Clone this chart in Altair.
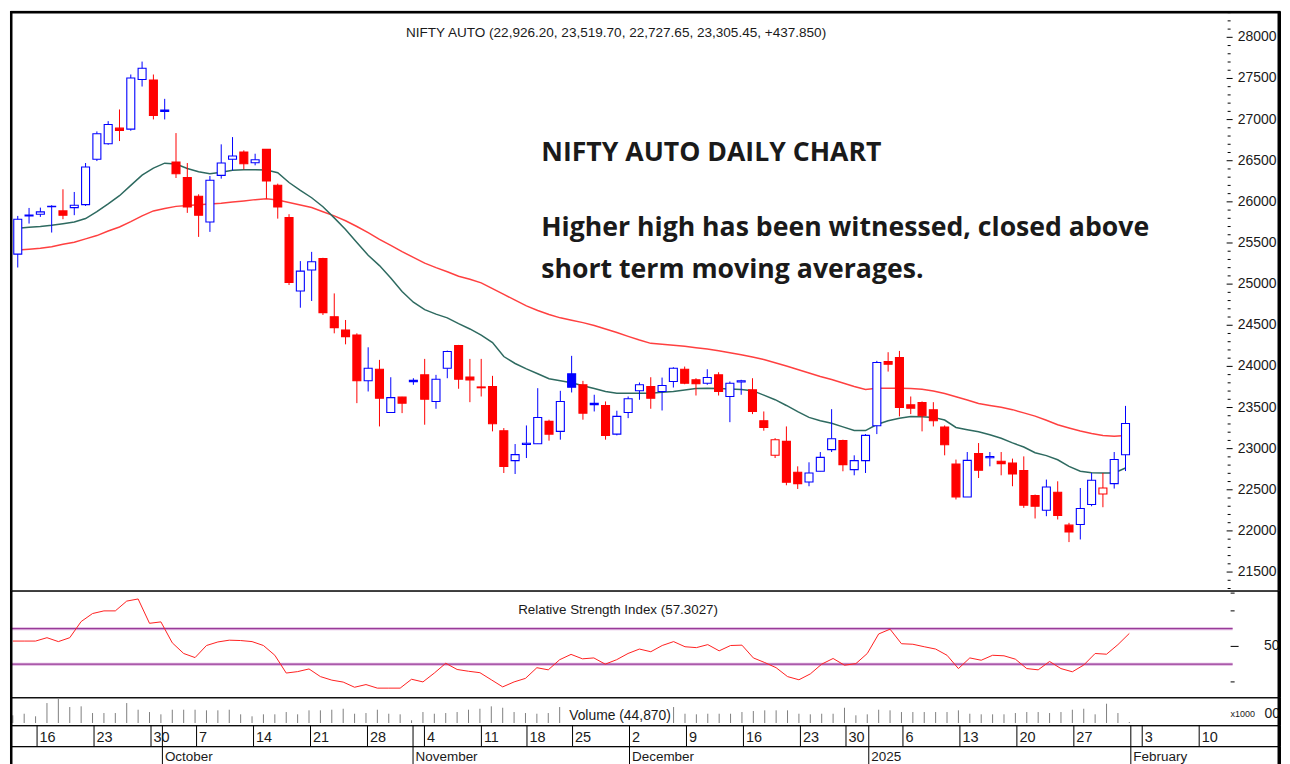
import altair as alt
import pandas as pd

# ---------------- data ----------------
opens = [25365, 25830, 25850, 25940, 25890, 25930, 25966, 26517, 26706, 26896,
         26884, 27487, 27482, 27100, 26484, 26294, 26068, 25756, 26322, 26517,
         26605, 26475, 26638, 26201, 25809, 24916, 25171, 25311, 24604, 24443,
         24382, 23825, 23965, 23440, 23626, 23815, 23897, 23573, 23977, 24253,
         23870, 23750, 23756, 23218, 22854, 23050, 23060, 23331, 23210, 23909,
         23776, 23535, 23525, 23177, 23440, 23703, 23756, 23695, 23816, 23965,
         23837, 23795, 23897, 23634, 23810, 23715, 23340, 22919, 23088, 22713,
         22595, 22725, 22988, 23097, 22745, 22854, 23279, 24059, 24107, 23533,
         23561, 23473, 23262, 22813, 22413, 22939, 22890, 22846, 22825, 22733,
         22430, 22252, 22470, 22070, 22078, 22321, 22449, 22575, 22926.2]
highs = [25829, 25926, 25930, 25959, 26153, 26120, 26472, 26856, 26981, 27123,
         27548, 27705, 27548, 27252, 26836, 26472, 26092, 26314, 26699, 26787,
         26626, 26585, 26640, 26221, 25850, 25280, 25392, 25320, 24887, 24564,
         24402, 24232, 24079, 23868, 23630, 23856, 24091, 23897, 24192, 24261,
         24091, 24091, 23885, 23250, 23056, 23282, 23735, 23352, 23703, 24128,
         23824, 23655, 23574, 23461, 23634, 23804, 23868, 23864, 23990, 23998,
         23856, 23965, 23929, 23816, 23837, 23856, 23452, 23128, 23270, 22785,
         22834, 22959, 23480, 23109, 22919, 23177, 24067, 24172, 24188, 23634,
         23574, 23565, 23282, 22867, 22959, 23068, 22959, 22959, 22879, 22906,
         22442, 22624, 22603, 22098, 22522, 22704, 22704, 22959, 23519.7]
lows = [25202, 25736, 25817, 25627, 25789, 25838, 25950, 26496, 26694, 26739,
        26864, 27402, 27002, 27002, 26290, 25866, 25574, 25635, 26282, 26383,
        26395, 26444, 26039, 25796, 24989, 24713, 24795, 24625, 24402, 24268,
        23553, 23695, 23270, 23440, 23432, 23776, 23291, 23485, 23856, 23728,
        23565, 23634, 23210, 22704, 22692, 22886, 23060, 23097, 23109, 23683,
        23352, 23452, 23109, 23161, 23371, 23594, 23485, 23464, 23743, 23783,
        23646, 23776, 23646, 23322, 23655, 23420, 23218, 22886, 22555, 22510,
        22543, 22725, 22959, 22725, 22676, 22704, 23177, 23937, 23392, 23420,
        23210, 23270, 22919, 22382, 22413, 22643, 22785, 22676, 22543, 22280,
        22151, 22179, 22139, 21864, 21896, 22300, 22288, 22515, 22727.65]
closes = [25789, 25840, 25878, 25945, 25838, 25959, 26423, 26827, 26941, 26868,
          27506, 27624, 27050, 27115, 26342, 25938, 25838, 26262, 26472, 26557,
          26463, 26512, 26253, 25938, 25020, 25158, 25271, 24653, 24471, 24362,
          23825, 23978, 23613, 23620, 23553, 23830, 23601, 23844, 24180, 23844,
          23835, 23740, 23303, 22785, 22927, 23065, 23379, 23177, 23574, 23747,
          23432, 23550, 23161, 23392, 23606, 23776, 23613, 23768, 23977, 23795,
          23788, 23864, 23695, 23795, 23825, 23452, 23258, 23109, 22591, 22575,
          22704, 22894, 23121, 22806, 22854, 23161, 24047, 24026, 23501, 23492,
          23400, 23340, 23048, 22413, 22858, 22737, 22905, 22818, 22692, 22312,
          22300, 22534, 22187, 21988, 22272, 22616, 22522, 22867.6, 23305.45]
ma_fast = [25680, 25690, 25700, 25715, 25735, 25755, 25797, 25880, 25975, 26075,
           26200, 26325, 26410, 26470, 26460, 26405, 26365, 26343, 26360, 26384,
           26390, 26390, 26386, 26355, 26235, 26140, 26050, 25940, 25805, 25665,
           25505, 25350, 25225, 25075, 24910, 24780, 24690, 24635, 24590, 24520,
           24455, 24380, 24290, 24120, 24035, 23970, 23910, 23850, 23825, 23800,
           23765, 23730, 23695, 23674, 23674, 23674, 23674, 23685, 23696, 23713,
           23730, 23735, 23730, 23725, 23720, 23705, 23650, 23595, 23525, 23450,
           23380, 23340, 23308, 23265, 23220, 23220, 23293, 23340, 23370, 23392,
           23388, 23380, 23348, 23258, 23230, 23205, 23170, 23127, 23070, 23020,
           22950, 22915, 22865, 22785, 22725, 22708, 22704, 22704, 22765]
ma_slow = [25415, 25425, 25435, 25455, 25485, 25510, 25550, 25590, 25645, 25695,
           25760, 25830, 25890, 25920, 25945, 25957, 25965, 25973, 25982, 25997,
           26011, 26027, 26038, 26022, 25993, 25963, 25932, 25880, 25830, 25770,
           25700, 25625, 25545, 25470, 25395, 25325, 25255, 25200, 25150, 25095,
           25060, 25015, 24945, 24875, 24805, 24735, 24680, 24630, 24590, 24560,
           24532, 24497, 24455, 24412, 24365, 24320, 24280, 24270, 24258, 24245,
           24227, 24210, 24190, 24165, 24142, 24113, 24083, 24045, 24005, 23963,
           23920, 23878, 23840, 23797, 23755, 23718, 23733, 23735, 23735, 23730,
           23722, 23700, 23670, 23630, 23592, 23550, 23525, 23502, 23474, 23435,
           23395, 23345, 23290, 23252, 23215, 23185, 23160, 23152, 23160]
rsi = [53, 53, 53, 54.9, 52.7, 54.9, 64, 68.5, 70, 70,
       75.5, 76.7, 63, 63.8, 52, 46, 43.7, 50.5, 52.5, 53.5,
       53.3, 52.7, 50.5, 45, 35, 35.8, 37.3, 33, 31, 29.9,
       27, 28.5, 26.5, 26.5, 26.5, 31.5, 30, 35, 40.5, 37,
       36, 35.2, 31.2, 27.2, 30, 32, 38, 36.8, 42.5, 45.5,
       43, 43.5, 40, 42.5, 46, 48.5, 47, 50.5, 52.7, 49.8,
       49.3, 51, 47.5, 50.5, 50.7, 43.5, 40.9, 38, 33, 31.2,
       34.5, 40, 43.2, 39.4, 40.3, 46, 57, 59.7, 51.5, 51.2,
       49.8, 48.5, 45, 37.5, 43.5, 42.2, 45, 44.7, 42.8, 37.5,
       36.8, 41.5, 37.5, 35.7, 39.5, 46, 45.6, 51, 57.3]
volume = [347, 419, 302, 900, 1094, 720, 752, 450, 450, 450,
          900, 599, 495, 392, 599, 599, 599, 572, 572, 599,
          392, 302, 392, 392, 495, 392, 572, 572, 599, 644,
          419, 450, 599, 419, 392, 122, 495, 419, 450, 495,
          599, 644, 752, 689, 495, 450, 419, 450, 720, None,
          None, None, None, None, None, None, None, None, 720, 419,
          392, 419, 419, 419, 495, 540, 572, 572, 572, 419,
          392, 419, 419, 689, 347, 392, 599, 572, 495, 495,
          495, 495, 495, 572, 419, 392, 392, 392, 450, 495,
          495, 450, 495, 599, 644, 392, 869, 450, 44.87]

rsi_levels = [60, 40]
rsi_major = [50]
rsi_minor_ticks = [30, 70, 80]
week_idx = [2, 7, 12, 16, 21, 26, 31, 36, 41, 45, 49, 54, 59, 64, 69, 73, 78, 83, 88, 93, 99, 104]
week_labels = ["16", "23", "30", "7", "14", "21", "28", "4", "11", "18", "25", "2", "9",
               "16", "23", "30", "6", "13", "20", "27", "3", "10"]
month_idx = [13, 35, 54, 75, 98]
month_labels = ["October", "November", "December", "2025", "February"]
price_ticks = list(range(21500, 28001, 500))
price_minor = [v for v in range(21300, 28301, 100) if v % 500 != 0]

title_text = "NIFTY AUTO (22,926.20, 23,519.70, 22,727.65, 23,305.45, +437.850)"
note_lines = ["NIFTY AUTO DAILY CHART",
              "Higher high has been witnessed, closed above",
              "short term moving averages."]

# ---------------- frame ----------------
n = len(closes)
prev = [closes[0]] + closes[:-1]
colors = ["#0000FF" if c >= p else "#FF0000" for c, p in zip(closes, prev)]
fills = ["#FFFFFF" if c >= o else col for o, c, col in zip(opens, closes, colors)]
df = pd.DataFrame({
    "i": list(range(n)), "open": opens, "high": highs, "low": lows, "close": closes,
    "color": colors, "fill": fills, "ma_fast": ma_fast, "ma_slow": ma_slow,
    "rsi": rsi, "vol": volume, "zero": [0] * n,
})

SANS = "Liberation Sans, Arial, sans-serif"
TXT = "#1a1a1a"
W = 1273
xs = alt.Scale(domain=[-0.245, 111.226], nice=False, zero=False)
X = alt.X("i:Q", scale=xs, axis=None)
base = alt.Chart(df)


def edges(h, top=False):
    """thick outer frame segments for one panel"""
    one = pd.DataFrame({"k": [0]})
    layers = [
        alt.Chart(one).mark_rule(color="black", strokeWidth=2.5).encode(
            x=alt.value(1.25), y=alt.value(0), y2=alt.value(h)),
        alt.Chart(one).mark_rule(color="black", strokeWidth=2.5).encode(
            x=alt.value(W - 1.25), y=alt.value(0), y2=alt.value(h)),
    ]
    if top:
        layers.append(alt.Chart(one).mark_rule(color="black", strokeWidth=2.5).encode(
            x=alt.value(0), x2=alt.value(W), y=alt.value(1.25)))
    return layers


def label(text, x, y, size, align="center", font=SANS, weight="normal", baseline="alphabetic"):
    return alt.Chart(pd.DataFrame({"t": [text]})).mark_text(
        font=font, fontSize=size, fontWeight=weight, align=align, baseline=baseline,
        color=TXT).encode(text="t:N", x=alt.value(x), y=alt.value(y))


# ---------------- main price panel ----------------
ps = alt.Scale(domain=[21275.4, 28321.3], nice=False, zero=False)
wick = base.mark_rule(strokeWidth=1, clip=True).encode(
    x=X, y=alt.Y("low:Q", scale=ps, axis=None), y2="high:Q",
    color=alt.Color("color:N", scale=None))
body = base.mark_bar(size=8, strokeWidth=1.1, clip=True).encode(
    x=X, y=alt.Y("open:Q", scale=ps, axis=None), y2="close:Q",
    fill=alt.Fill("fill:N", scale=None), stroke=alt.Stroke("color:N", scale=None))
ma1 = base.mark_line(color="#2E6A60", strokeWidth=1.5, clip=True).encode(
    x=X, y=alt.Y("ma_fast:Q", scale=ps, axis=None))
ma2 = base.mark_line(color="#FF4040", strokeWidth=1.5, clip=True).encode(
    x=X, y=alt.Y("ma_slow:Q", scale=ps, axis=None))
pt = pd.DataFrame({"v": price_ticks})
major_t = alt.Chart(pt).mark_rule(color="black").encode(
    y=alt.Y("v:Q", scale=ps, axis=None), x=alt.value(1219.5), x2=alt.value(1225.5))
major_l = alt.Chart(pt).mark_text(font=SANS, fontSize=14, align="right", baseline="middle",
                                  color=TXT).encode(
    y=alt.Y("v:Q", scale=ps, axis=None), x=alt.value(1269.5), text=alt.Text("v:Q", format="d"))
minor_t = alt.Chart(pd.DataFrame({"v": price_minor})).mark_rule(color="black").encode(
    y=alt.Y("v:Q", scale=ps, axis=None), x=alt.value(1220.5), x2=alt.value(1223.5))
title = label(title_text, 607.5, 26.2, 13.6)
notes = [label(t, 532.5, yy, 26.7, align="left", font="Open Sans", weight="bold")
         for t, yy in zip(note_lines, [150.8, 225.5, 267.5])]
main = alt.layer(minor_t, major_t, major_l, ma2, ma1, wick, body, title, *notes,
                 *edges(581, top=True)).properties(width=W, height=581)

# ---------------- RSI panel ----------------
rs = alt.Scale(domain=[21.35, 81.46], nice=False, zero=False)
lv = pd.DataFrame({"lvl": rsi_levels})
lvl_glow = alt.Chart(lv).mark_rule(color="#DDB0DD", strokeWidth=3).encode(
    y=alt.Y("lvl:Q", scale=rs, axis=None), x=alt.value(0), x2=alt.value(1225.5))
lvl_line = alt.Chart(lv).mark_rule(color="#8E2A8E", strokeWidth=1).encode(
    y=alt.Y("lvl:Q", scale=rs, axis=None), x=alt.value(0), x2=alt.value(1225.5))
rsi_minor = alt.Chart(pd.DataFrame({"v": rsi_minor_ticks})).mark_rule(color="black").encode(
    y=alt.Y("v:Q", scale=rs, axis=None), x=alt.value(1223.5), x2=alt.value(1227.5))
rm = pd.DataFrame({"v": rsi_major})
rsi_major_t = alt.Chart(rm).mark_rule(color="black").encode(
    y=alt.Y("v:Q", scale=rs, axis=None), x=alt.value(1223.5), x2=alt.value(1231.5))
rsi_major_l = alt.Chart(rm).mark_text(font=SANS, fontSize=14, align="right", baseline="middle",
                                      color=TXT).encode(
    y=alt.Y("v:Q", scale=rs, axis=None), x=alt.value(1272.5), text=alt.Text("v:Q", format="d"))
rsi_line = base.mark_line(color="#FF2020", strokeWidth=1, clip=True).encode(
    x=X, y=alt.Y("rsi:Q", scale=rs, axis=None))
rsi_title = label("Relative Strength Index (57.3027)", 609.5, 23.8, 13.4)
rsi_panel = alt.layer(lvl_glow, lvl_line, rsi_minor, rsi_major_t, rsi_major_l, rsi_line,
                      rsi_title, *edges(107)).properties(width=W, height=107)

# ---------------- volume panel ----------------
vs = alt.Scale(domain=[-99, 1161], nice=False, zero=False)
vol = base.transform_filter("isValid(datum.vol)").mark_rule(
    color="#808080", strokeWidth=1, clip=True).encode(
    x=X, y=alt.Y("vol:Q", scale=vs, axis=None), y2="zero:Q")
vol_title = label("Volume (44,870)", 560.5, 22.5, 13.9, align="left")
vol_unit = label("x1000", 1223.5, 17, 9, align="left", baseline="middle")
vol_lab = label("00", 1257.5, 17, 14, align="left", baseline="middle")
vol_panel = alt.layer(vol, vol_title, vol_unit, vol_lab, *edges(28)).properties(width=W, height=28)

# ---------------- date rows ----------------
wk = pd.DataFrame({"idx": week_idx, "lab": week_labels})
mo = pd.DataFrame({"idx": month_idx, "lab": month_labels})
XI = alt.X("idx:Q", scale=xs, axis=None)
wk_rule = alt.Chart(wk).mark_rule(color="black", xOffset=1.5).encode(
    x=XI, y=alt.value(0), y2=alt.value(21))
mo_rule_d = alt.Chart(mo).mark_rule(color="black", xOffset=1.5).encode(
    x=XI, y=alt.value(0), y2=alt.value(21))
wk_text = alt.Chart(wk).mark_text(font=SANS, fontSize=14.5, align="left", dx=4,
                                  baseline="alphabetic", color=TXT).encode(
    x=XI, y=alt.value(16.5), text="lab:N")
day_panel = alt.layer(wk_rule, mo_rule_d, wk_text, *edges(21)).properties(width=W, height=21)

mo_rule = alt.Chart(mo).mark_rule(color="black", xOffset=1.5).encode(
    x=XI, y=alt.value(0), y2=alt.value(20))
mo_text = alt.Chart(mo).mark_text(font=SANS, fontSize=13.5, align="left", dx=4,
                                  baseline="alphabetic", color=TXT).encode(
    x=XI, y=alt.value(14.5), text="lab:N")
month_panel = alt.layer(mo_rule, mo_text, *edges(20)).properties(width=W, height=20)

chart = alt.vconcat(main, rsi_panel, vol_panel, day_panel, month_panel,
                    spacing=0, bounds="flush").properties(
    padding={"left": 0, "top": 0, "right": 0, "bottom": 0},
    background="white",
).configure_view(stroke="black", strokeWidth=1).configure_concat(spacing=0)

chart.save("out.html", embed_options={"renderer": "svg", "actions": False})
